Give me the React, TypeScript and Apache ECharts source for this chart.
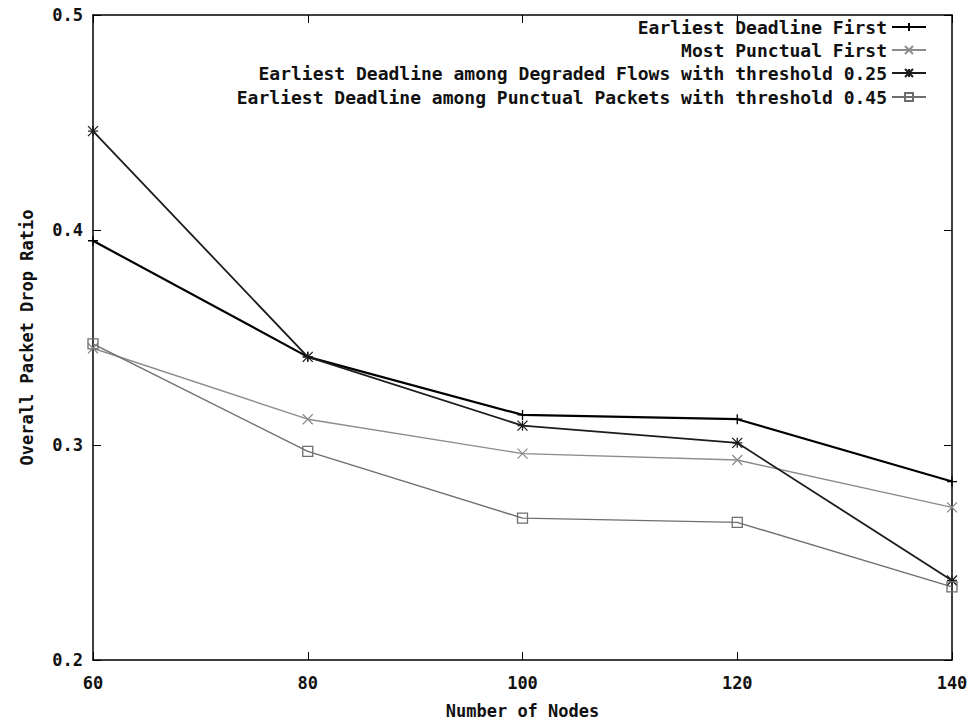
import React, { useEffect, useRef } from "react";
import * as echarts from "echarts";

const xValues = [60, 80, 100, 120, 140];
const seriesNames = [
  "Earliest Deadline First",
  "Most Punctual First",
  "Earliest Deadline among Degraded Flows with threshold 0.25",
  "Earliest Deadline among Punctual Packets with threshold 0.45",
];
const edf = [0.395, 0.341, 0.314, 0.312, 0.283];
const mpf = [0.345, 0.312, 0.296, 0.293, 0.271];
const degraded = [0.446, 0.341, 0.309, 0.301, 0.237];
const punctual = [0.347, 0.297, 0.266, 0.264, 0.234];
const yTicks = [0.2, 0.3, 0.4, 0.5];
const xTicks = [60, 80, 100, 120, 140];

const FONT = '"DejaVu Sans Mono", "Liberation Mono", monospace';

export default function App() {
  const ref = useRef<HTMLDivElement>(null);
  useEffect(() => {
    if (!ref.current) return;
    const chart = echarts.init(ref.current, null, { renderer: "svg" });
    const values = [edf, mpf, degraded, punctual];
    const symbols = [
      "path://M5,0L5,10M0,5L10,5",
      "path://M0,0L10,10M10,0L0,10",
      "path://M0,0L10,10M10,0L0,10M5,0L5,10M0,5L10,5",
      "rect",
    ];
    const lineColors = ["#000000", "#8c8c8c", "#1c1c1c", "#6e6e6e"];
    const lineWidths = [2.2, 1.4, 1.8, 1.4];
    const textStyle = { fontFamily: FONT, fontWeight: "bold" as const, fontSize: 17, color: "#111" };
    const legendTops = [13, 36, 59, 83];
    const axisCommon = {
      axisLine: { show: true, lineStyle: { color: "#000", width: 1.5 } },
      axisTick: { show: true, inside: true, length: 8, lineStyle: { color: "#000" } },
      splitLine: { show: false },
    };
    chart.setOption({
      animation: false,
      backgroundColor: "#fff",
      legend: seriesNames.map((n, i) => ({
        data: [n],
        right: 40,
        top: legendTops[i],
        align: "right",
        itemWidth: 34,
        itemHeight: 10,
        itemGap: 4,
        textStyle: { ...textStyle, fontSize: 18 },
        selectedMode: false,
      })),
      grid: { left: 93, right: 20, top: 15, bottom: 60 },
      xAxis: [
        {
          type: "value",
          min: xTicks[0],
          max: xTicks[xTicks.length - 1],
          interval: 20,
          position: "bottom",
          name: "Number of Nodes",
          nameLocation: "middle",
          nameGap: 42,
          nameTextStyle: { ...textStyle },
          axisLabel: { ...textStyle, margin: 14 },
          ...axisCommon,
        },
        {
          type: "value",
          min: xTicks[0],
          max: xTicks[xTicks.length - 1],
          interval: 20,
          position: "top",
          axisLabel: { show: false },
          ...axisCommon,
        },
      ],
      yAxis: [
        {
          type: "value",
          min: yTicks[0],
          max: yTicks[yTicks.length - 1],
          interval: 0.1,
          position: "left",
          name: "Overall Packet Drop Ratio",
          nameLocation: "middle",
          nameRotate: 90,
          nameGap: 58,
          nameTextStyle: { ...textStyle },
          axisLabel: { ...textStyle, margin: 10, formatter: (v: number) => v.toFixed(1) },
          ...axisCommon,
        },
        {
          type: "value",
          min: yTicks[0],
          max: yTicks[yTicks.length - 1],
          interval: 0.1,
          position: "right",
          axisLabel: { show: false },
          ...axisCommon,
        },
      ],
      series: seriesNames.map((n, i) => ({
        name: n,
        type: "line",
        xAxisIndex: 0,
        yAxisIndex: 0,
        data: xValues.map((x, j) => [x, values[i][j]]),
        symbol: symbols[i],
        symbolSize: 10,
        showSymbol: true,
        lineStyle: { color: lineColors[i], width: lineWidths[i] },
        itemStyle: { color: "rgba(0,0,0,0)", borderColor: lineColors[i], borderWidth: 1.3 },
        emphasis: { disabled: true },
      })),
    });
    return () => chart.dispose();
  }, []);
  return (
    <div
      ref={ref}
      style={{ position: "fixed", left: 0, top: 0, width: 972, height: 724, background: "#fff" }}
    />
  );
}
